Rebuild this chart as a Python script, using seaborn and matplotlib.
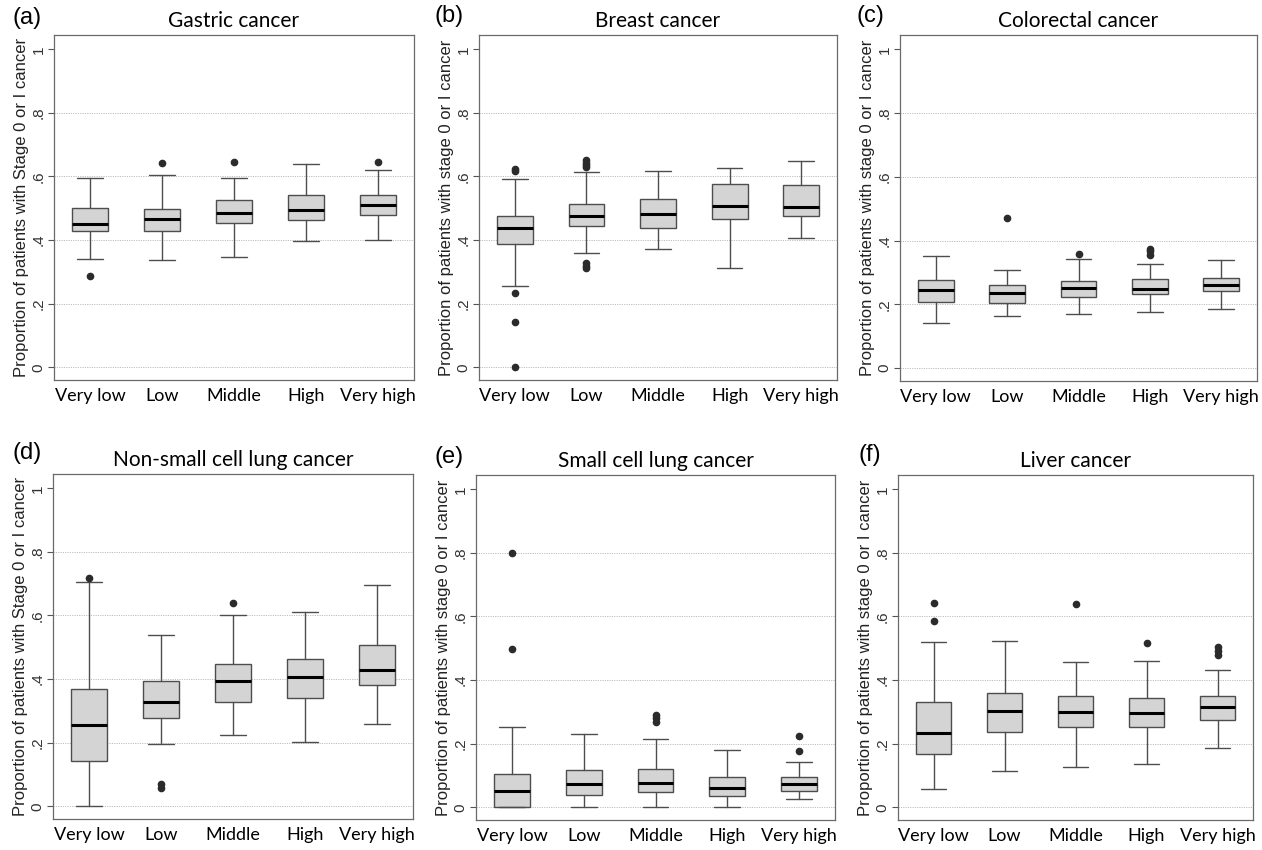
import matplotlib
matplotlib.use("Agg")
import matplotlib.pyplot as plt
import seaborn as sns

sns.set_style("white")
plt.rcParams['font.family'] = ['Liberation Sans', 'DejaVu Sans']

categories = ["Very low", "Low", "Middle", "High", "Very high"]
yticks = [0, 0.2, 0.4, 0.6, 0.8, 1.0]
ytick_labels = ["0", ".2", ".4", ".6", ".8", "1"]

# (a) Gastric cancer
gastric_lo = [0.341, 0.336, 0.348, 0.398, 0.400]
gastric_q1 = [0.429, 0.428, 0.454, 0.462, 0.479]
gastric_med = [0.452, 0.466, 0.485, 0.494, 0.510]
gastric_q3 = [0.502, 0.497, 0.525, 0.543, 0.541]
gastric_hi = [0.594, 0.605, 0.596, 0.639, 0.620]
gastric_out = [[0.288], [0.643], [0.645], [], [0.645]]

# (b) Breast cancer
breast_lo = [0.257, 0.360, 0.372, 0.313, 0.406]
breast_q1 = [0.387, 0.443, 0.438, 0.467, 0.476]
breast_med = [0.437, 0.475, 0.482, 0.508, 0.504]
breast_q3 = [0.475, 0.515, 0.528, 0.577, 0.573]
breast_hi = [0.591, 0.614, 0.616, 0.627, 0.650]
breast_out = [[0.618, 0.625, 0.235, 0.142, 0.0],
              [0.651, 0.644, 0.637, 0.630, 0.327, 0.318, 0.311], [], [], []]

# (c) Colorectal cancer
colorectal_lo = [0.141, 0.164, 0.169, 0.177, 0.185]
colorectal_q1 = [0.207, 0.206, 0.223, 0.234, 0.242]
colorectal_med = [0.244, 0.235, 0.252, 0.249, 0.260]
colorectal_q3 = [0.276, 0.262, 0.273, 0.281, 0.283]
colorectal_hi = [0.352, 0.307, 0.343, 0.328, 0.339]
colorectal_out = [[], [0.472], [0.358], [0.375, 0.367, 0.354], []]

# (d) Non-small cell lung cancer
nsclc_lo = [0.0, 0.197, 0.223, 0.203, 0.260]
nsclc_q1 = [0.141, 0.277, 0.328, 0.339, 0.380]
nsclc_med = [0.257, 0.327, 0.393, 0.408, 0.429]
nsclc_q3 = [0.369, 0.393, 0.448, 0.463, 0.508]
nsclc_hi = [0.705, 0.539, 0.601, 0.612, 0.697]
nsclc_out = [[0.718], [0.070, 0.058], [0.639], [], []]

# (e) Small cell lung cancer
sclc_lo = [0.0, 0.0, 0.0, 0.0, 0.026]
sclc_q1 = [0.0, 0.039, 0.047, 0.037, 0.051]
sclc_med = [0.052, 0.072, 0.075, 0.060, 0.072]
sclc_q3 = [0.105, 0.117, 0.119, 0.094, 0.096]
sclc_hi = [0.251, 0.230, 0.214, 0.180, 0.143]
sclc_out = [[0.800, 0.499], [], [0.290, 0.281, 0.269], [], [0.224, 0.178]]

# (f) Liver cancer
liver_lo = [0.058, 0.115, 0.126, 0.136, 0.188]
liver_q1 = [0.169, 0.238, 0.251, 0.251, 0.276]
liver_med = [0.234, 0.303, 0.301, 0.296, 0.314]
liver_q3 = [0.332, 0.360, 0.351, 0.345, 0.351]
liver_hi = [0.520, 0.524, 0.457, 0.460, 0.432]
liver_out = [[0.642, 0.587], [], [0.640], [0.517], [0.504, 0.492, 0.480]]

label_upper = "Proportion of patients with Stage 0 or I cancer"
label_lower = "Proportion of patients with stage 0 or I cancer"

panels = [
    ("(a)", "Gastric cancer", label_upper,
     gastric_lo, gastric_q1, gastric_med, gastric_q3, gastric_hi, gastric_out),
    ("(b)", "Breast cancer", label_lower,
     breast_lo, breast_q1, breast_med, breast_q3, breast_hi, breast_out),
    ("(c)", "Colorectal cancer", label_lower,
     colorectal_lo, colorectal_q1, colorectal_med, colorectal_q3, colorectal_hi, colorectal_out),
    ("(d)", "Non-small cell lung cancer", label_upper,
     nsclc_lo, nsclc_q1, nsclc_med, nsclc_q3, nsclc_hi, nsclc_out),
    ("(e)", "Small cell lung cancer", label_lower,
     sclc_lo, sclc_q1, sclc_med, sclc_q3, sclc_hi, sclc_out),
    ("(f)", "Liver cancer", label_lower,
     liver_lo, liver_q1, liver_med, liver_q3, liver_hi, liver_out),
]

W, H = 1262, 850
# pixel boxes: left, top, right, bottom
boxes_px = [
    (54, 35, 414, 380),
    (479, 35, 837, 380),
    (900, 35, 1257, 381),
    (53, 474, 413, 819),
    (476, 475, 835, 820),
    (898, 475, 1253, 820),
]
letter_px = [(13, 18), (435, 16), (856, 16), (12, 453), (435, 457), (858, 455)]

fig = plt.figure(figsize=(W / 100, H / 100), dpi=100)

for (letter, title, ylabel, lo, q1, med, q3, hi, out), (l, t, r, b), (lx, ly) in zip(panels, boxes_px, letter_px):
    ax = fig.add_axes([l / W, 1 - b / H, (r - l) / W, (b - t) / H])
    stats = [dict(label=c, whislo=a, q1=bq, med=m, q3=d, whishi=e, fliers=f)
             for c, a, bq, m, d, e, f in zip(categories, lo, q1, med, q3, hi, out)]
    for y in [0, 0.2, 0.4, 0.6, 0.8]:
        ax.axhline(y, color='#bdbdbd', lw=0.7, ls=(0, (1.2, 1.2)), zorder=0)
    ax.bxp(stats, positions=list(range(5)), widths=0.5, patch_artist=True, showfliers=True,
           capwidths=0.36,
           boxprops=dict(facecolor='#d4d4d4', edgecolor='#4d4d4d', linewidth=1.0),
           medianprops=dict(color='black', linewidth=2.2),
           whiskerprops=dict(color='#4d4d4d', linewidth=1.0),
           capprops=dict(color='#4d4d4d', linewidth=1.0),
           flierprops=dict(marker='o', markersize=4.5, markerfacecolor='#2b2b2b',
                           markeredgecolor='#2b2b2b', linestyle='none'))
    ax.set_xlim(-0.5, 4.5)
    ax.set_ylim(-0.04, 1.045)
    ax.set_yticks(yticks)
    ax.set_yticklabels(ytick_labels, rotation=90, va='center', fontsize=11, color='#333333')
    ax.set_xticks(list(range(5)))
    ax.set_xticklabels(categories, fontsize=13, fontfamily='Lato', color='black')
    ax.tick_params(axis='x', length=0, pad=6)
    ax.tick_params(axis='y', length=4, width=0.8, color='#555555', pad=2, left=True)
    for sp in ax.spines.values():
        sp.set_color('#6a6a6a')
        sp.set_linewidth(0.9)
    ax.set_ylabel(ylabel, fontsize=12, color='#222222')
    ax.yaxis.set_label_coords(-0.07, 0.5)
    ax.text(0.5, 1 + 14 / (b - t), title, transform=ax.transAxes, ha='center', va='center',
            fontsize=15, fontfamily='Lato', color='black')
    fig.text(lx / W, 1 - ly / H, letter, ha='left', va='center', fontsize=17, color='black')

fig.savefig("out.png", dpi=100)
